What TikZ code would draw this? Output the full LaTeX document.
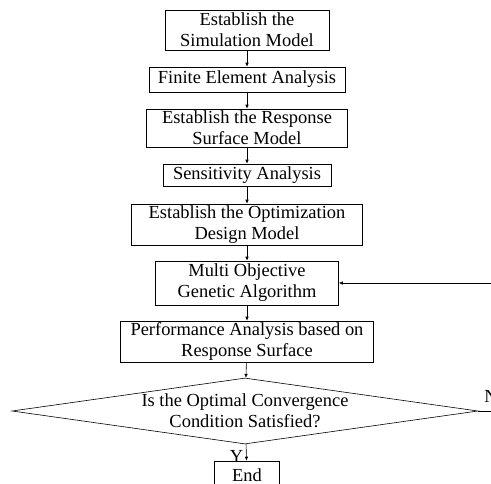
\documentclass[tikz,border=0pt]{standalone}
\usepackage{fontspec}
\setmainfont{Liberation Serif}
\usetikzlibrary{shapes.geometric,arrows.meta}
\begin{document}
\begin{tikzpicture}[x=1bp,y=-1bp,
    every node/.style={font=\fontsize{18.5}{21}\selectfont},
    stepbox/.style={draw,line width=0.6pt,align=center,inner sep=0pt},
    flow/.style={-{Latex[length=4pt,width=3.5pt]},line width=0.6pt}]
      \clip (0,0) rectangle (491,484);
      \node[stepbox,minimum width=164bp,minimum height=40bp] (sim) at (247,30) {Establish the\\Simulation Model};
      \node[stepbox,minimum width=196bp,minimum height=25bp] (fea) at (247,79.5) {Finite Element Analysis};
      \node[stepbox,minimum width=201bp,minimum height=38bp] (rsm) at (247,128) {Establish the Response\\Surface Model};
      \node[stepbox,minimum width=168bp,minimum height=22bp] (sens) at (247,175) {Sensitivity Analysis};
      \node[stepbox,minimum width=231bp,minimum height=41bp] (odm) at (247,224.5) {Establish the Optimization\\Design Model};
      \node[stepbox,minimum width=183bp,minimum height=44bp] (moga) at (247,283) {Multi Objective\\Genetic Algorithm};
      \node[stepbox,minimum width=253bp,minimum height=41bp] (perf) at (247,341.5) {Performance Analysis based on\\Response Surface};
      \node[stepbox,diamond,aspect=7.06,minimum width=466bp,minimum height=66bp] (conv) at (245,411) {Is the Optimal Convergence\\Condition Satisfied?};
      \node[stepbox,minimum width=65bp,minimum height=28bp] (end) at (247,475) {End};
      \node (no) at (491,396) {N};
      \coordinate (back) at (530,411);
      \begin{scope}[flow]
        \draw (sim) -- (fea);
        \draw (fea) -- (rsm);
        \draw (rsm) -- (sens);
        \draw (sens) -- (odm);
        \draw (odm) -- (moga);
        \draw (moga) -- (perf);
        \draw (perf) -- (conv);
        \draw (conv) -- node[near end,left,inner sep=3pt] {Y} (end);
        \draw (conv.east) -- (back) |- (moga.east);
      \end{scope}
    \end{tikzpicture}
\end{document}
